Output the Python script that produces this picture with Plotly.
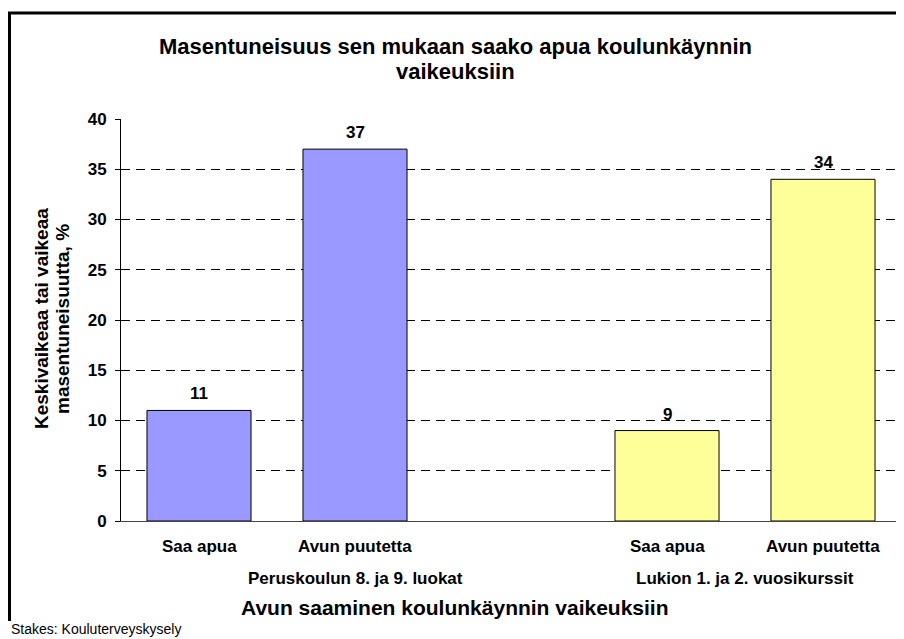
import plotly.graph_objects as go

categories = ["Saa apua", "Avun puutetta", "Saa apua", "Avun puutetta"]
x_pos = [0, 1, 3, 4]
values = [11, 37, 9, 34]
bar_colors = ["#9999FF", "#9999FF", "#FFFF99", "#FFFF99"]
groups = ["Peruskoulun 8. ja 9. luokat", "Lukion 1. ja 2. vuosikurssit"]
group_pos = [1, 3.5]
y_ticks = [0, 5, 10, 15, 20, 25, 30, 35, 40]
title_lines = ["Masentuneisuus sen mukaan saako apua koulunkäynnin", "vaikeuksiin"]
ytitle_lines = ["Keskivaikeaa tai vaikeaa", "masentuneisuutta, %"]
xtitle = "Avun saaminen koulunkäynnin vaikeuksiin"
source = "Stakes: Kouluterveyskysely"

FONT = "Liberation Sans, Arial, sans-serif"
OFF = 8  # page body margin
PW, PH = 904, 639
W, H = PW - OFF, PH - OFF
L, R, T, B = 121, 901, 119, 521  # plot area in page pixels


def px(xp):
    return (xp - L) / (R - L)


def py(yp):
    return (B - yp) / (B - T)


fig = go.Figure()
fig.add_trace(go.Bar(
    x=x_pos, y=values,
    marker=dict(color=bar_colors, line=dict(color="#000000", width=1)),
    width=0.667,
    cliponaxis=False,
))

annotations = []
for xv, v in zip(x_pos, values):
    annotations.append(dict(x=xv, y=v, xref="x", yref="y", text=f"<b>{v}</b>",
                            showarrow=False, font=dict(family=FONT, size=17, color="#000"),
                            xanchor="center", yanchor="bottom", yshift=5))
for xv, c in zip(x_pos, categories):
    annotations.append(dict(x=xv, y=py(546), xref="x", yref="paper", text=f"<b>{c}</b>",
                            showarrow=False, font=dict(family=FONT, size=17, color="#000"),
                            xanchor="center", yanchor="middle"))
for xv, g in zip(group_pos, groups):
    annotations.append(dict(x=xv, y=py(578), xref="x", yref="paper", text=f"<b>{g}</b>",
                            showarrow=False, font=dict(family=FONT, size=17, color="#000"),
                            xanchor="center", yanchor="middle"))
annotations.append(dict(x=px(455), y=py(607), xref="paper", yref="paper",
                        text=f"<b>{xtitle}</b>",
                        showarrow=False, font=dict(family=FONT, size=21, color="#000"),
                        xanchor="center", yanchor="middle"))
for xp, line in zip([41, 62], ytitle_lines):
    annotations.append(dict(x=px(xp), y=py(319), xref="paper", yref="paper",
                            text=f"<b>{line}</b>", showarrow=False, textangle=-90,
                            font=dict(family=FONT, size=19, color="#000"),
                            xanchor="center", yanchor="middle"))
for yp, line in zip([46, 71], title_lines):
    annotations.append(dict(x=px(455), y=py(yp), xref="paper", yref="paper",
                            text=f"<b>{line}</b>", showarrow=False,
                            font=dict(family=FONT, size=22, color="#000"),
                            xanchor="center", yanchor="middle"))
annotations.append(dict(x=px(9), y=py(629), xref="paper", yref="paper",
                        text=source,
                        showarrow=False, font=dict(family=FONT, size=14, color="#000"),
                        xanchor="left", yanchor="middle"))

shapes = [
    dict(type="line", xref="paper", yref="paper", x0=px(8), x1=px(910), y0=py(13), y1=py(13),
         line=dict(color="#000", width=3)),
    dict(type="line", xref="paper", yref="paper", x0=px(9.5), x1=px(9.5), y0=py(12), y1=py(621),
         line=dict(color="#000", width=3)),
    dict(type="line", xref="paper", yref="paper", x0=1, x1=1, y0=0, y1=1,
         line=dict(color="#000", width=1)),
]

fig.update_layout(
    width=W, height=H,
    margin=dict(l=L - OFF, r=W - (R - OFF), t=T - OFF, b=H - (B - OFF)),
    paper_bgcolor="#ffffff", plot_bgcolor="#ffffff",
    showlegend=False,
    font=dict(family=FONT, color="#000"),
    xaxis=dict(range=[-0.5, 4.5], showticklabels=False, showgrid=False, zeroline=False,
               showline=True, linecolor="#444", linewidth=1, ticks=""),
    yaxis=dict(range=[0, 40], tickvals=y_ticks, showgrid=True, gridcolor="#000", gridwidth=1,
               griddash="9px,6px", zeroline=False, showline=True, linecolor="#000", linewidth=1,
               ticks="outside", ticklen=5, tickcolor="#000", ticklabelstandoff=5,
               tickfont=dict(family=FONT, size=17, color="#000", weight="bold")),
    annotations=annotations,
    shapes=shapes,
)

fig.write_html("out.html")
